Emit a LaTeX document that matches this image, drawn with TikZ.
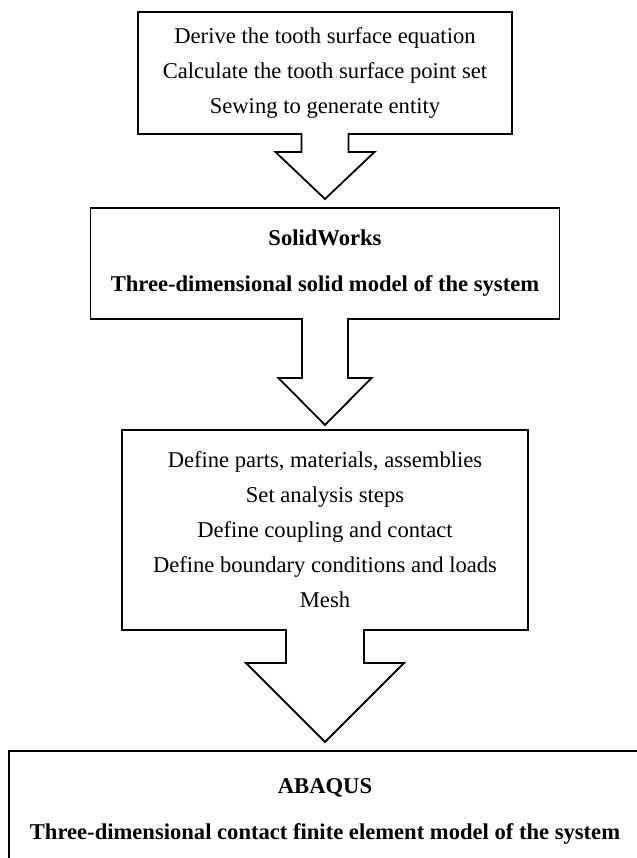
\documentclass[tikz,border=0pt]{standalone}
\usepackage{fontspec}
\setmainfont{Liberation Serif}
\usetikzlibrary{positioning,calc}

% hollow block arrow: source, target, shaft half width, head half width, head length, gap
\newcommand{\fatarrow}[6]{%
  \fill[white] let \p1=(#1.south) in (\x1-#3,\y1+0.6pt) rectangle (\x1+#3,\y1-0.6pt);
  \draw[fat] let \p1=(#1.south), \p2=(#2.north) in
    (\x1-#3,\y1+0.45pt) -- (\x1-#3,\y2+#6+#5) -- (\x1-#4,\y2+#6+#5) -- (\x1,\y2+#6)
    -- (\x1+#4,\y2+#6+#5) -- (\x1+#3,\y2+#6+#5) -- (\x1+#3,\y1+0.45pt);
}

\begin{document}
\begin{tikzpicture}[
  every node/.style={draw, line width=0.9pt, align=center, inner sep=0pt, outer sep=0pt},
  stepbox/.style={font=\fontsize{11.3}{17.5}\selectfont},
  toolbox/.style={font=\fontsize{11.3}{23}\selectfont\bfseries},
  fat/.style={line width=0.9pt, line join=miter}
]
\useasboundingbox (-162.5pt,36.5pt) rectangle (156pt,-392.5pt);
\clip (-162.5pt,36.5pt) rectangle (156pt,-392.5pt);

\node[stepbox, minimum width=187pt, minimum height=61pt] (tooth) {Derive the tooth surface equation\\ Calculate the tooth surface point set\\ Sewing to generate entity};
\node[toolbox, minimum width=234.5pt, minimum height=55.5pt, below=37pt of tooth] (solid) {SolidWorks\\ Three-dimensional solid model of the system};
\node[stepbox, minimum width=203pt, minimum height=100pt, below=55.5pt of solid] (setup) {Define parts, materials, assemblies\\ Set analysis steps\\ Define coupling and contact\\ Define boundary conditions and loads\\ Mesh};
\node[toolbox, minimum width=316pt, minimum height=60.5pt, below=60.5pt of setup] (abaqus) {ABAQUS\\ Three-dimensional contact finite element model of the system};

\fatarrow{tooth}{solid}{11.75pt}{24.75pt}{23.5pt}{4.5pt}
\fatarrow{solid}{setup}{11.5pt}{23.25pt}{23.5pt}{2.5pt}
\fatarrow{setup}{abaqus}{19.5pt}{39.5pt}{39.5pt}{4.5pt}
\end{tikzpicture}
\end{document}
